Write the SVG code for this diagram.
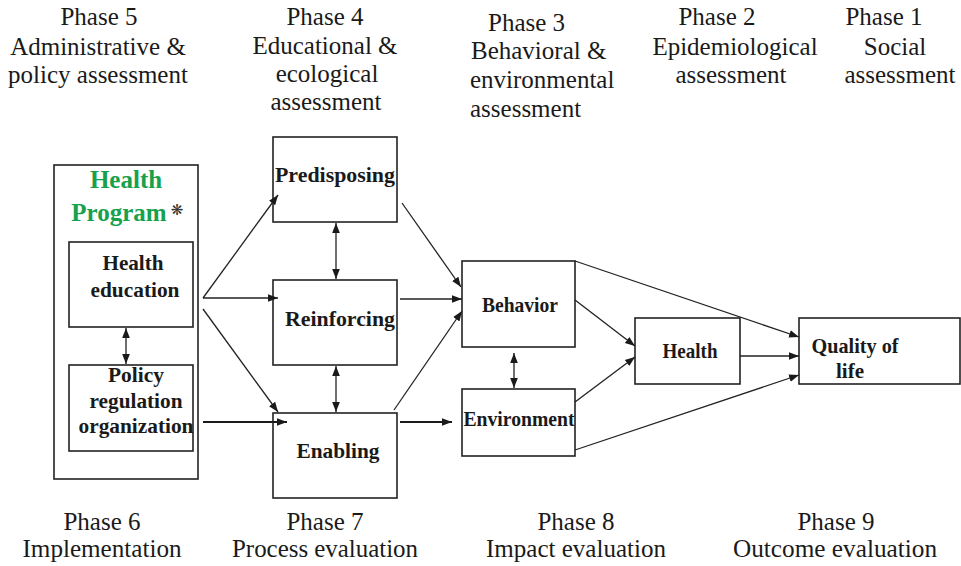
<svg xmlns="http://www.w3.org/2000/svg" width="961" height="566" viewBox="0 0 961 566">
<defs>
<marker id="ah" viewBox="0 0 10 10" refX="10" refY="5" markerWidth="10" markerHeight="10" markerUnits="userSpaceOnUse" orient="auto-start-reverse">
<path d="M0,1.2 L10,5 L0,8.8 Z" fill="#1a1a1a"/>
</marker>
<style>
.box{fill:#fff;stroke:#222;stroke-width:1.6}
.lbl{font-family:"Liberation Serif","Times New Roman",serif;font-weight:bold;font-size:21px;fill:#1a1a1a;text-anchor:middle}
.ph{font-family:"Liberation Serif","Times New Roman",serif;font-size:25px;fill:#1a1a1a}
.mid{text-anchor:middle}
.green{font-family:"Liberation Serif","Times New Roman",serif;font-weight:bold;font-size:25px;fill:#17a14c;text-anchor:middle}
.c{fill:none;stroke:#222;stroke-width:1.3}
.ct{fill:none;stroke:#1a1a1a;stroke-width:2}
</style>
</defs>
<rect width="961" height="566" fill="#fff"/>

<g id="phase-labels-top" class="ph">
<text x="99" y="25" class="mid">Phase 5</text>
<text x="98" y="55" class="mid">Administrative &amp;</text>
<text x="98" y="83" class="mid">policy assessment</text>
<text x="325" y="25" class="mid">Phase 4</text>
<text x="325" y="54" class="mid">Educational &amp;</text>
<text x="327" y="82" class="mid">ecological</text>
<text x="326" y="110" class="mid">assessment</text>
<text x="488" y="31">Phase 3</text>
<text x="471" y="59">Behavioral &amp;</text>
<text x="470" y="88">environmental</text>
<text x="470" y="117">assessment</text>
<text x="717" y="25" class="mid">Phase 2</text>
<text x="735" y="55" class="mid">Epidemiological</text>
<text x="731" y="83" class="mid">assessment</text>
<text x="884" y="25" class="mid">Phase 1</text>
<text x="895" y="55" class="mid">Social</text>
<text x="900" y="83" class="mid">assessment</text>
</g>

<g id="phase-labels-bottom" class="ph">
<text x="102" y="530" class="mid">Phase 6</text>
<text x="102" y="557" class="mid" textLength="159" lengthAdjust="spacingAndGlyphs">Implementation</text>
<text x="325" y="530" class="mid">Phase 7</text>
<text x="325" y="557" class="mid" textLength="186" lengthAdjust="spacingAndGlyphs">Process evaluation</text>
<text x="576" y="530" class="mid">Phase 8</text>
<text x="576" y="557" class="mid" textLength="180" lengthAdjust="spacingAndGlyphs">Impact evaluation</text>
<text x="836" y="530" class="mid">Phase 9</text>
<text x="835" y="557" class="mid" textLength="204" lengthAdjust="spacingAndGlyphs">Outcome evaluation</text>
</g>

<g id="health-program">
<rect class="box" x="54" y="165" width="144" height="314"/>
<text x="126" y="188" class="green">Health</text>
<text x="119" y="221" class="green">Program</text>
<text x="177" y="215" font-family="DejaVu Sans, sans-serif" font-size="15" fill="#333" text-anchor="middle">❋</text>
</g>

<g id="health-education">
<rect class="box" x="69" y="242" width="124" height="85"/>
<text x="133" y="270" class="lbl" textLength="61" lengthAdjust="spacingAndGlyphs">Health</text>
<text x="135" y="297" class="lbl" textLength="89" lengthAdjust="spacingAndGlyphs">education</text>
</g>

<g id="policy">
<rect class="box" x="69" y="365" width="124" height="86"/>
<text x="136" y="382" class="lbl" textLength="56" lengthAdjust="spacingAndGlyphs">Policy</text>
<text x="136" y="408" class="lbl" textLength="93" lengthAdjust="spacingAndGlyphs">regulation</text>
<text x="136" y="433" class="lbl" textLength="115" lengthAdjust="spacingAndGlyphs">organization</text>
</g>

<g id="predisposing">
<rect class="box" x="273" y="137" width="124" height="85"/>
<text x="335" y="182" class="lbl" textLength="120" lengthAdjust="spacingAndGlyphs">Predisposing</text>
</g>

<g id="reinforcing">
<rect class="box" x="273" y="280" width="124" height="85"/>
<text x="340" y="326" class="lbl" textLength="110" lengthAdjust="spacingAndGlyphs">Reinforcing</text>
</g>

<g id="enabling">
<rect class="box" x="273" y="413" width="124" height="85"/>
<text x="338" y="458" class="lbl" textLength="83" lengthAdjust="spacingAndGlyphs">Enabling</text>
</g>

<g id="behavior">
<rect class="box" x="462" y="261" width="113" height="86"/>
<text x="520" y="312" class="lbl" textLength="76" lengthAdjust="spacingAndGlyphs">Behavior</text>
</g>

<g id="environment">
<rect class="box" x="462" y="389" width="113" height="67"/>
<text x="519" y="426" class="lbl" textLength="111" lengthAdjust="spacingAndGlyphs">Environment</text>
</g>

<g id="health">
<rect class="box" x="635" y="318" width="105" height="66"/>
<text x="690" y="358" class="lbl" textLength="55" lengthAdjust="spacingAndGlyphs">Health</text>
</g>

<g id="quality-of-life">
<rect class="box" x="799" y="318" width="161" height="66"/>
<text x="855" y="353" class="lbl" textLength="87" lengthAdjust="spacingAndGlyphs">Quality of</text>
<text x="850" y="378" class="lbl">life</text>
</g>

<g id="connectors">
<line class="c" x1="126" y1="328" x2="126" y2="364" marker-start="url(#ah)" marker-end="url(#ah)"/>
<line class="c" x1="203" y1="298" x2="278" y2="195" marker-end="url(#ah)"/>
<line class="c" x1="203" y1="298" x2="278" y2="298" marker-end="url(#ah)"/>
<line class="c" x1="203" y1="309" x2="278" y2="412" marker-end="url(#ah)"/>
<line class="ct" x1="203" y1="422" x2="287" y2="422" marker-end="url(#ah)"/>
<line class="c" x1="336" y1="223" x2="336" y2="279" marker-start="url(#ah)" marker-end="url(#ah)"/>
<line class="c" x1="336" y1="366" x2="336" y2="412" marker-start="url(#ah)" marker-end="url(#ah)"/>
<line class="c" x1="402" y1="203" x2="461" y2="287" marker-end="url(#ah)"/>
<line class="c" x1="400" y1="299" x2="462" y2="299" marker-end="url(#ah)"/>
<line class="c" x1="394" y1="410" x2="462" y2="311" marker-end="url(#ah)"/>
<line class="ct" x1="400" y1="422" x2="452" y2="422" marker-end="url(#ah)"/>
<line class="c" x1="514" y1="353" x2="514" y2="388" marker-start="url(#ah)" marker-end="url(#ah)"/>
<line class="c" x1="575" y1="261" x2="799" y2="337" marker-end="url(#ah)"/>
<line class="c" x1="575" y1="300" x2="635" y2="346" marker-end="url(#ah)"/>
<line class="c" x1="575" y1="402" x2="635" y2="357" marker-end="url(#ah)"/>
<line class="c" x1="740" y1="356" x2="799" y2="356" marker-end="url(#ah)"/>
<line class="c" x1="575" y1="450" x2="799" y2="375" marker-end="url(#ah)"/>
</g>
</svg>
